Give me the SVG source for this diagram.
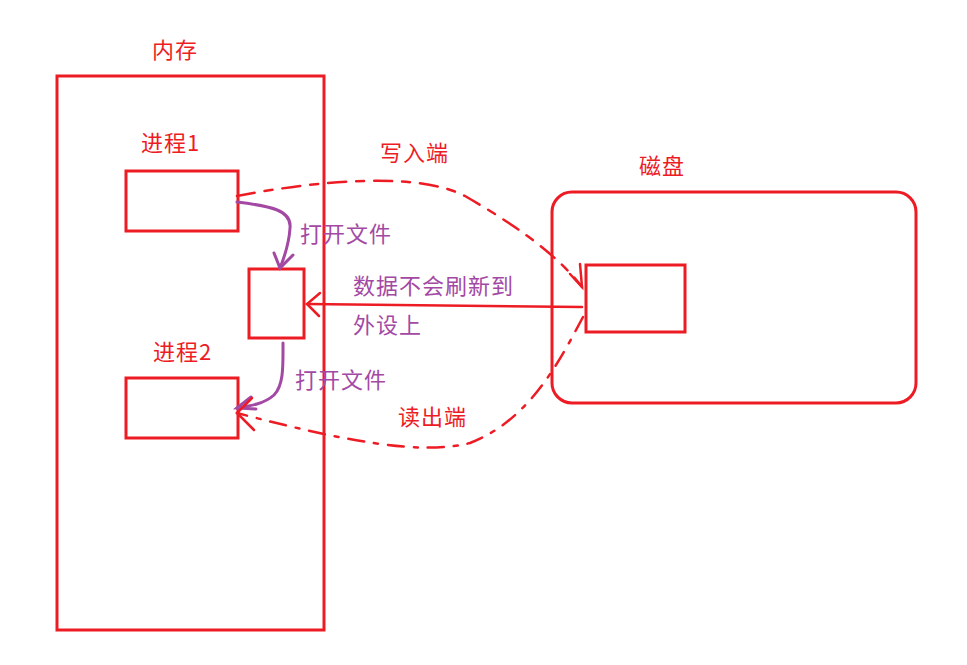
<svg xmlns="http://www.w3.org/2000/svg" width="967" height="665" viewBox="0 0 967 665">
<style>
.box{fill:none;stroke:#ed1c24;stroke-width:3}
.t{font-family:"Noto Sans CJK SC","Noto Sans",sans-serif;font-size:22px;letter-spacing:1px}
.red{fill:#ed1c24}
.pur{fill:#a349a4}
.pl{fill:none;stroke:#a349a4;stroke-width:3;stroke-linecap:round}
.rl{fill:none;stroke:#ed1c24;stroke-width:2.5;stroke-linecap:round}
</style>
<rect width="967" height="665" fill="#fff"/>
<g id="memory">
<rect class="box" x="57" y="76" width="267" height="554"/>
<text class="t red" x="152" y="58">内存</text>
</g>
<g id="proc1">
<rect class="box" x="126" y="171" width="112" height="60"/>
<text class="t red" x="141" y="151">进程1</text>
</g>
<g id="proc2">
<rect class="box" x="126" y="378" width="112" height="60"/>
<text class="t red" x="153" y="360">进程2</text>
</g>
<g id="file">
<rect class="box" x="249" y="269" width="55" height="69"/>
</g>
<g id="disk">
<rect class="box" x="552" y="192" width="364" height="211" rx="20"/>
<text class="t red" x="639" y="174">磁盘</text>
</g>
<g id="diskfile">
<rect class="box" x="586" y="265" width="99" height="67"/>
</g>
<g id="connectors">
<path class="pl" d="M237,202 C270,206 292,210 290,228 C289,245 284,258 280,268"/>
<path class="pl" d="M274,253 L280,268 L293,255"/>
<path class="pl" d="M283,343 C283,365 284,385 274,395 C264,404 250,406 237,408"/>
<path class="pl" d="M251,397 L237,408 L256,409"/>
<path class="rl" d="M582,307 L307,304"/>
<path class="rl" d="M320,293 L307,304 L319,316"/>
<path class="rl" stroke-dasharray="18 10 8 10" d="M237,196 C320,180 420,172 465,196 C510,222 555,252 582,287"/>
<path class="rl" d="M570,274 L582,287 L580,264"/>
<path class="rl" stroke-dasharray="16 10 4 10" d="M583,317 C560,360 530,420 470,443 C420,456 340,440 237,413"/>
<path class="rl" d="M252,398 L237,413 L254,430"/>
</g>
<g id="labels">
<text class="t red" x="380" y="161">写入端</text>
<text class="t red" x="398" y="425">读出端</text>
<text class="t pur" x="300" y="242">打开文件</text>
<text class="t pur" x="295" y="388">打开文件</text>
<text class="t pur" x="353" y="294">数据不会刷新到</text>
<text class="t pur" x="353" y="333">外设上</text>
</g>
</svg>
